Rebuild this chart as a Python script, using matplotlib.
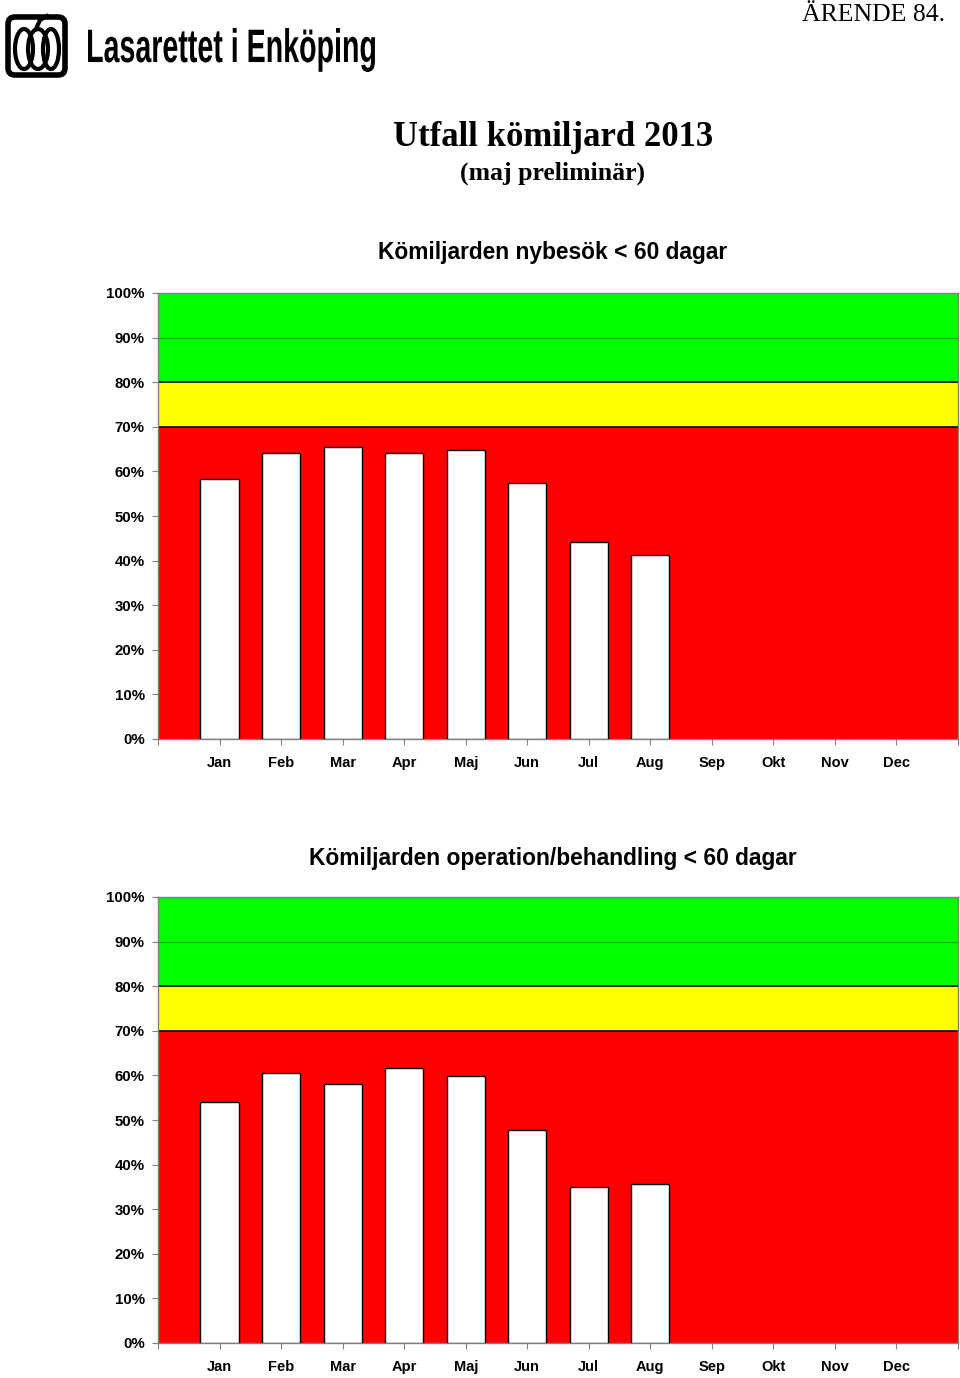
import numpy as np
import matplotlib.pyplot as plt
from matplotlib.textpath import TextPath
from matplotlib.font_manager import FontProperties
from matplotlib.patches import PathPatch, FancyBboxPatch, Ellipse
from matplotlib.transforms import Affine2D

months = ["Jan", "Feb", "Mar", "Apr", "Maj", "Jun", "Jul", "Aug", "Sep", "Okt", "Nov", "Dec"]
nybesok = [58.3, 64.1, 65.5, 64.1, 64.8, 57.4, 44.2, 41.3]
operation = [54.0, 60.5, 58.1, 61.7, 59.9, 47.8, 35.0, 35.7]
yticks = [0, 10, 20, 30, 40, 50, 60, 70, 80, 90, 100]
bands = [(0, 70, "#ff0000"), (70, 80, "#ffff00"), (80, 100, "#00ff00")]

W, H = 960, 1378
fig = plt.figure(figsize=(W / 100, H / 100), dpi=100)

def fx(px):
    return px / W

def fy(py):
    return 1 - py / H

sans = "Liberation Sans"
serif = "Liberation Serif"

# header
fig.text(fx(945), fy(15), "ÄRENDE 84.", family=serif, fontsize=18.5,
         ha="right", va="center")
fig.text(fx(553), fy(138), "Utfall kömiljard 2013", family=serif, fontsize=25,
         fontweight="bold", ha="center", va="center")
fig.text(fx(553), fy(173), "(maj preliminär)", family=serif, fontsize=18.5,
         fontweight="bold", ha="center", va="center")

# logo text, squeezed into its box with a text path
lax = fig.add_axes([0, 0, 1, 1], zorder=10)
lax.set_xlim(0, W)
lax.set_ylim(H, 0)
lax.axis("off")
tp = TextPath((0, 0), "Lasarettet i Enköping", size=10,
              prop=FontProperties(family=sans, weight="bold"))
ext = tp.get_extents()
box = (88, 375, 28, 72)  # x0, x1, ytop, ybottom in px
sx = (box[1] - box[0]) / ext.width
sy = (box[3] - box[2]) / ext.height
tr = (Affine2D().translate(-ext.x0, -ext.y1).scale(sx, -sy).translate(box[0], box[2]))
lax.add_patch(PathPatch(tr.transform_path(tp), color="black", lw=0))

# logo icon
lax.add_patch(FancyBboxPatch((8, 17), 57, 58, boxstyle="round,pad=0,rounding_size=7",
                             fill=False, ec="black", lw=4))
for cx, w in [(24, 18), (38, 20), (51, 16)]:
    lax.add_patch(Ellipse((cx, 49), w, 40, fill=False, ec="black", lw=3))
lax.plot([36, 40, 47], [29, 20, 16], color="black", lw=3)


def draw_chart(top_px, bottom_px, title, title_y, values):
    ax = fig.add_axes([fx(158), fy(bottom_px), fx(958) - fx(158),
                       (bottom_px - top_px) / H])
    for lo, hi, c in bands:
        ax.axhspan(lo, hi, color=c, zorder=0, lw=0)
    ax.axhline(90, color="#00a000", lw=0.8, zorder=1)
    ax.axhline(70, color="black", lw=1.2, zorder=1)
    ax.axhline(80, color="black", lw=1.2, zorder=1)
    x = np.arange(1, len(values) + 1)
    ax.bar(x, values, width=0.62, color="white", edgecolor="black", lw=1.0, zorder=3)
    ax.set_xlim(0, 13)
    ax.set_ylim(0, 100)
    ax.set_xticks(np.arange(0, 14))
    ax.set_xticklabels([""] + months + [""], family=sans, fontsize=10.5,
                       fontweight="bold")
    ax.set_yticks(yticks)
    ax.set_yticklabels([f"{v}%" for v in yticks], family=sans, fontsize=10.8,
                       fontweight="bold")
    ax.tick_params(axis="x", length=4, color="#808080", pad=8)
    ax.tick_params(axis="y", length=4, color="#808080", pad=5.5)
    for s in ax.spines.values():
        s.set_color("#808080")
        s.set_linewidth(1)
    fig.text(fx(553), fy(title_y), title, family=sans, fontsize=16.4,
             fontweight="bold", ha="center", va="center")
    return ax


draw_chart(293, 739, "Kömiljarden nybesök < 60 dagar", 253, nybesok)
draw_chart(897, 1343, "Kömiljarden operation/behandling < 60 dagar", 858, operation)

fig.savefig("out.png", dpi=100)
